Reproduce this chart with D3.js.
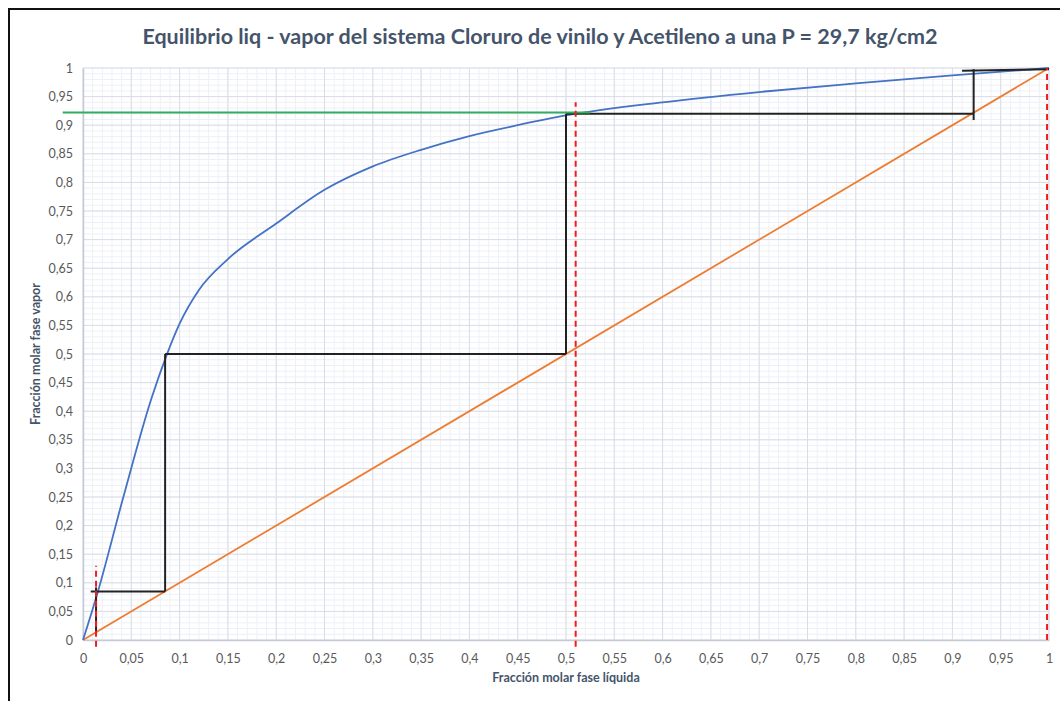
<!DOCTYPE html>
<html><head><meta charset="utf-8">
<script src="https://cdn.jsdelivr.net/npm/d3@7"></script>
<style>body{margin:0;background:#fff;} svg{display:block;}</style>
</head><body>
<svg id="chart" width="1060" height="701"></svg>
<script>
// Equilibrium curve (liquid x -> vapour y)
const eqX = [0, 0.0155, 0.041, 0.071, 0.0866, 0.1, 0.12, 0.15, 0.2, 0.25, 0.3, 0.35, 0.4, 0.45, 0.5, 0.6, 0.7, 0.8, 0.9, 1];
const eqY = [0, 0.085, 0.245, 0.423, 0.498, 0.553, 0.612, 0.666, 0.728, 0.787, 0.828, 0.857, 0.881, 0.9, 0.917, 0.94, 0.958, 0.973, 0.987, 1];
// Diagonal y = x
const diagX = [0, 1];
const diagY = [0, 1];
// Stage staircase segments [x1, x2] and [y1, y2]
const stairX = [[0.008, 0.085], [0.085, 0.085], [0.085, 0.5], [0.5, 0.5], [0.0135, 0.0135], [0.5, 0.922], [0.922, 0.922], [0.91, 1.0]];
const stairY = [[0.085, 0.085], [0.085, 0.5], [0.5, 0.5], [0.5, 0.92], [0.013, 0.092], [0.92, 0.92], [0.909, 0.998], [0.995, 0.998]];
// Green line (distillate composition)
const greenX = [-0.021, 0.525];
const greenY = [0.922, 0.922];
// Red dashed composition markers
const redX = [0.0135, 0.51, 0.998];
const redY0 = [-0.012, -0.012, 0];
const redY1 = [0.13, 0.94, 1];
// Ticks
const xTicks = d3.range(0, 21).map(i => i / 20);
const yTicks = d3.range(0, 21).map(i => i / 20);
const tickLabel = v => (v === 0 ? "0" : v === 1 ? "1" : String(+v.toFixed(2)).replace(".", ","));

(function () {
const svg = d3.select("#chart");
const mLeft = 83, mRight = 1049, mTop = 68, mBottom = 640;
const x = d3.scaleLinear().domain([0, 1]).range([mLeft, mRight]);
const y = d3.scaleLinear().domain([0, 1]).range([mBottom, mTop]);

// frame
svg.append("rect").attr("x", 9).attr("y", 9).attr("width", 1100).attr("height", 760)
  .attr("fill", "#fff").attr("stroke", "#111").attr("stroke-width", 2);

// minor grid
const minor = d3.range(0, 101).map(i => i / 100);
const g = svg.append("g");
g.selectAll(".mx").data(minor).join("line")
  .attr("x1", d => x(d)).attr("x2", d => x(d)).attr("y1", y(0)).attr("y2", y(1))
  .attr("stroke", "#edf0f6").attr("stroke-width", 1);
g.selectAll(".my").data(minor).join("line")
  .attr("y1", d => y(d)).attr("y2", d => y(d)).attr("x1", x(0)).attr("x2", x(1))
  .attr("stroke", "#edf0f6").attr("stroke-width", 1);
// major grid
g.selectAll(".Mx").data(xTicks).join("line")
  .attr("x1", d => x(d)).attr("x2", d => x(d)).attr("y1", y(0)).attr("y2", y(1))
  .attr("stroke", "#d9dde7").attr("stroke-width", 1);
g.selectAll(".My").data(yTicks).join("line")
  .attr("y1", d => y(d)).attr("y2", d => y(d)).attr("x1", x(0)).attr("x2", x(1))
  .attr("stroke", "#d9dde7").attr("stroke-width", 1);

// axes
const xAxis = d3.axisBottom(x).tickValues(xTicks).tickFormat(tickLabel).tickSize(0).tickPadding(14);
const yAxis = d3.axisLeft(y).tickValues(yTicks).tickFormat(tickLabel).tickSize(0).tickPadding(10);
const ax = svg.append("g").attr("transform", `translate(0,${mBottom})`).call(xAxis);
const ay = svg.append("g").attr("transform", `translate(${mLeft},0)`).call(yAxis);
[ax, ay].forEach(a => {
  a.select(".domain").attr("stroke", "#c5cad6").attr("stroke-width", 1.5);
  a.selectAll("text").attr("fill", "#595959").attr("font-family", "Lato, 'Open Sans', sans-serif").attr("font-size", 12.5);
});

// diagonal
const line = d3.line().x(d => x(d[0])).y(d => y(d[1]));
svg.append("path").datum(diagX.map((v, i) => [v, diagY[i]])).attr("d", line)
  .attr("fill", "none").attr("stroke", "#ED7D31").attr("stroke-width", 1.8);

// equilibrium curve
const curve = d3.line().x(d => x(d[0])).y(d => y(d[1])).curve(d3.curveMonotoneX);
svg.append("path").datum(eqX.map((v, i) => [v, eqY[i]])).attr("d", curve)
  .attr("fill", "none").attr("stroke", "#4472C4").attr("stroke-width", 1.8);

// staircase
stairX.forEach((xs, i) => {
  svg.append("line").attr("x1", x(xs[0])).attr("y1", y(stairY[i][0]))
    .attr("x2", x(xs[1])).attr("y2", y(stairY[i][1]))
    .attr("stroke", "#222").attr("stroke-width", 2);
});

// green line
svg.append("line").attr("x1", x(greenX[0])).attr("y1", y(greenY[0]))
  .attr("x2", x(greenX[1])).attr("y2", y(greenY[1]))
  .attr("stroke", "#2fae60").attr("stroke-width", 2);

// red dashed lines
redX.forEach((v, i) => {
  svg.append("line").attr("x1", x(v)).attr("x2", x(v)).attr("y1", y(redY0[i])).attr("y2", y(redY1[i]))
    .attr("stroke", "#f21c1c").attr("stroke-width", 2).attr("stroke-dasharray", "6,4");
});

// title
svg.append("text").attr("x", 540).attr("y", 44).attr("text-anchor", "middle")
  .attr("font-family", "Lato, 'Open Sans', sans-serif").attr("font-weight", "bold").attr("font-size", 21.5)
  .attr("fill", "#44546A")
  .text("Equilibrio liq - vapor del sistema Cloruro de vinilo y Acetileno a una P = 29,7 kg/cm2");

// axis titles
svg.append("text").attr("x", 566).attr("y", 682).attr("text-anchor", "middle")
  .attr("font-family", "Lato, 'Open Sans', sans-serif").attr("font-weight", "bold").attr("font-size", 12.5)
  .attr("fill", "#44546A").text("Fracción molar fase líquida");
svg.append("text").attr("transform", `translate(40,354) rotate(-90)`).attr("text-anchor", "middle")
  .attr("font-family", "Lato, 'Open Sans', sans-serif").attr("font-weight", "bold").attr("font-size", 12.5)
  .attr("fill", "#44546A").text("Fracción molar fase vapor");
})();
</script>
</body></html>
